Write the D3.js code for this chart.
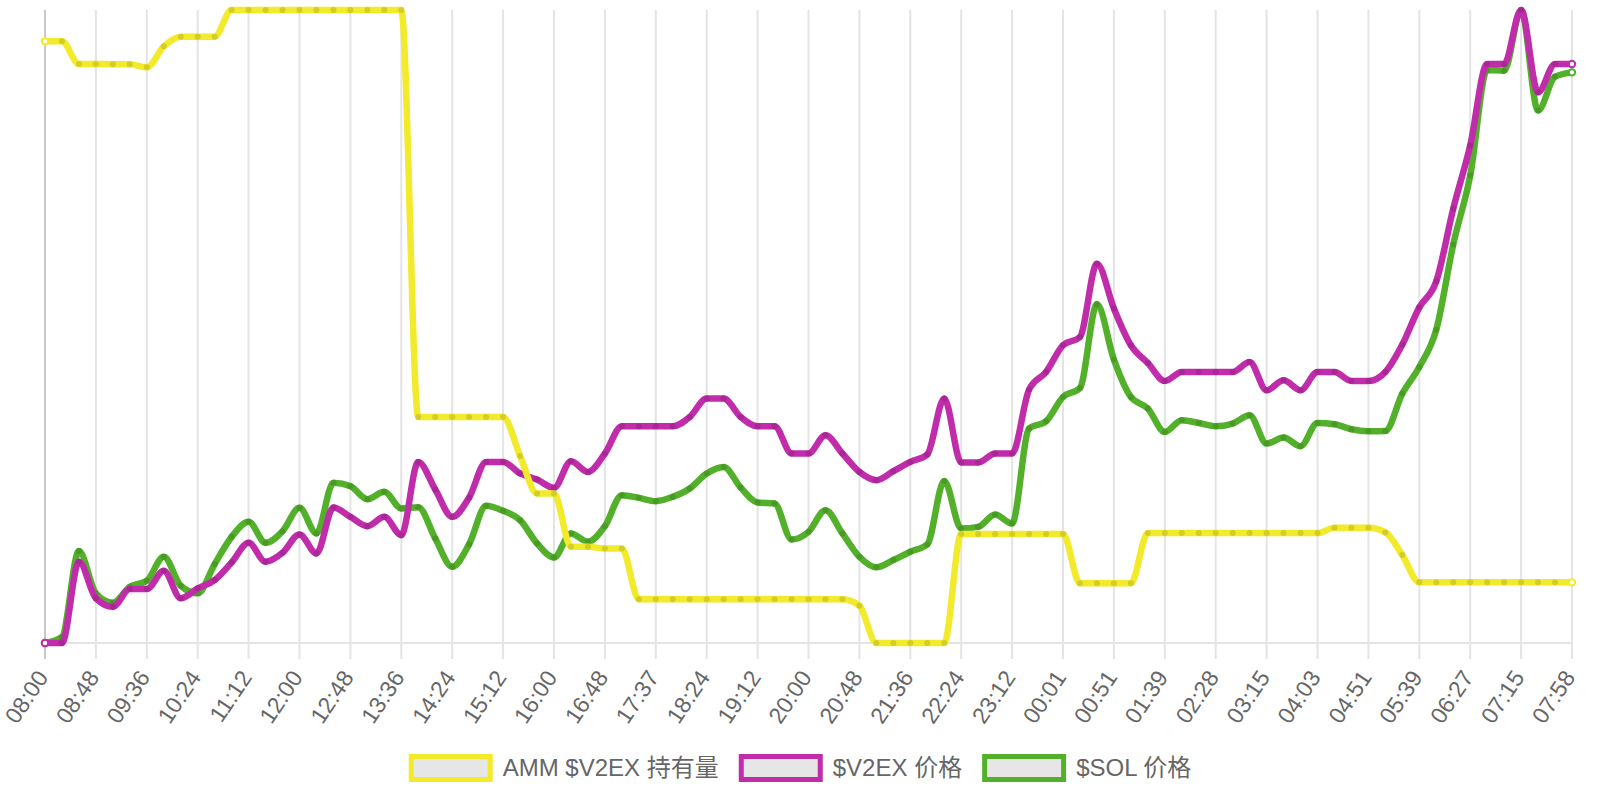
<!DOCTYPE html>
<html>
<head>
<meta charset="utf-8">
<script src="https://cdn.jsdelivr.net/npm/d3@7"></script>
<style>
  html, body { margin: 0; padding: 0; background: #fff; }
  #chart { width: 1600px; height: 800px; }
  text { font-family: "Liberation Sans", Arial, "Noto Sans CJK SC", sans-serif; fill: #666; }
</style>
</head>
<body>
<div id="chart"></div>
<script>
// tick labels, one every 3 samples
var timeLabels = ["08:00","08:48","09:36","10:24","11:12","12:00","12:48","13:36","14:24","15:12",
                  "16:00","16:48","17:37","18:24","19:12","20:00","20:48","21:36","22:24","23:12",
                  "00:01","00:51","01:39","02:28","03:15","04:03","04:51","05:39","06:27","07:15","07:58"]

var seriesNames = ["AMM $V2EX 持有量", "$V2EX 价格", "$SOL 价格"]
var seriesColors = ["#f2ea2a", "#c02caa", "#52b02a"]

// values normalised 0-100 (each series on its own hidden axis)
var ammHolding = [95.05,95.05,91.48,91.48,91.42,91.42,90.94,94.26,95.79,95.79,
                  95.79,100,100,100,100,100,100,100,100,100,
                  100,100,35.71,35.71,35.71,35.71,35.71,35.71,29.56,23.62,
                  23.62,15.20,15.20,14.94,14.94,6.90,6.90,6.90,6.90,6.90,
                  6.90,6.90,6.90,6.90,6.90,6.90,6.90,6.90,5.89,0,
                  0,0,0,0,17.20,17.20,17.20,17.20,17.20,17.20,
                  17.20,9.42,9.42,9.42,9.42,17.36,17.36,17.36,17.36,17.36,
                  17.36,17.36,17.36,17.36,17.36,17.36,18.19,18.19,18.19,17.47,
                  13.89,9.58,9.58,9.58,9.58,9.58,9.58,9.58,9.58,9.58,
                  9.58]

var v2exPrice = [0,0,12.83,7.05,5.73,8.52,8.52,11.41,7.05,8.63,
                 9.94,12.73,15.83,12.83,14.25,17.15,14.15,21.41,19.93,18.46,
                 19.93,17.04,28.61,24.25,19.93,22.99,28.61,28.61,26.78,25.83,
                 24.51,28.72,27.03,29.94,34.24,34.24,34.24,34.24,35.71,38.61,
                 38.61,35.71,34.24,34.24,29.94,29.94,32.82,29.94,27.03,25.72,
                 27.14,28.61,29.78,38.61,28.52,28.52,29.94,29.94,40.03,42.81,
                 47.03,48.34,59.92,52.83,47.03,44.23,41.39,42.81,42.81,42.81,
                 42.81,44.39,39.92,41.50,39.92,42.81,42.81,41.39,41.39,42.81,
                 47.14,53.02,57.13,68.60,78.59,91.48,91.48,100,87.00,91.48,
                 91.48]

var solPrice = [0,0.95,14.52,7.84,6.36,8.88,9.83,13.62,9.04,7.84,
                12.47,16.77,19.14,15.83,17.67,21.35,17.31,25.30,24.78,22.72,
                23.88,21.26,21.46,16.52,12.04,15.62,21.67,20.88,19.41,15.73,
                13.52,17.31,15.99,18.46,23.35,22.93,22.41,23.09,24.41,26.78,
                27.82,24.57,22.20,22.04,16.36,17.56,20.99,17.31,13.62,11.95,
                13.10,14.41,15.58,25.61,18.10,18.35,20.31,18.89,33.88,35.03,
                38.87,40.29,53.50,44.78,38.87,37.04,33.34,35.19,34.76,34.24,
                34.67,35.98,31.51,32.46,31.09,34.76,34.56,33.77,33.45,33.50,
                39.40,43.60,49.50,62.96,73.85,90.53,90.42,100,84.11,89.47,
                90.15]

var allSeries = [ammHolding, v2exPrice, solPrice]

var width = 1600, height = 800
var margin = {top: 10, right: 28, bottom: 157, left: 45}

var svg = d3.select("#chart").append("svg")
    .attr("width", width)
    .attr("height", height)

var x = d3.scaleLinear()
    .domain([0, ammHolding.length - 1])
    .range([margin.left, width - margin.right])

var y = d3.scaleLinear()
    .domain([0, 100])
    .range([height - margin.bottom, margin.top])

var tickIdx = d3.range(0, ammHolding.length, 3)

// vertical grid + tick marks
svg.append("g")
  .selectAll("line")
  .data(tickIdx)
  .join("line")
    .attr("x1", d => x(d))
    .attr("x2", d => x(d))
    .attr("y1", margin.top)
    .attr("y2", height - margin.bottom + 16)
    .attr("stroke", (d, i) => i == 0 ? "#c9c9c9" : "#e4e4e4")
    .attr("stroke-width", 2)

// bottom border
svg.append("line")
    .attr("x1", margin.left - 1)
    .attr("x2", width - margin.right + 1)
    .attr("y1", y(0))
    .attr("y2", y(0))
    .attr("stroke", "#e4e4e4")
    .attr("stroke-width", 2)

// x labels
var xAxis = svg.append("g")
    .attr("transform", `translate(0,${height - margin.bottom})`)
    .call(d3.axisBottom(x).tickValues(tickIdx).tickSize(0)
          .tickFormat((d, i) => timeLabels[i]))
xAxis.select(".domain").remove()
xAxis.selectAll("text")
    .attr("font-size", 23)
    .attr("font-family", null)
    .attr("text-anchor", "end")
    .attr("y", 0)
    .attr("dy", "0.35em")
    .attr("transform", "translate(-3,30) rotate(-56)")

// lines, last dataset drawn first so the first ends up on top
var line = d3.line()
    .x((d, i) => x(i))
    .y(d => y(d))
    .curve(d3.curveMonotoneX)

var order = [2, 1, 0]
order.forEach(function(k) {
  var data = allSeries[k]
  var col = seriesColors[k]
  var last = data.length - 1
  var g = svg.append("g")
  g.append("path")
    .datum(data)
    .attr("fill", "none")
    .attr("stroke", col)
    .attr("stroke-width", 6.5)
    .attr("stroke-linejoin", "round")
    .attr("stroke-linecap", "round")
    .attr("d", line)
  g.selectAll("circle")
    .data(data)
    .join("circle")
      .attr("cx", (d, i) => x(i))
      .attr("cy", d => y(d))
      .attr("r", (d, i) => (i == 0 || i == last) ? 3.2 : 3)
      .attr("fill", (d, i) => (i == 0 || i == last) ? "#fff" : d3.color(col).darker(0.5))
      .attr("fill-opacity", (d, i) => (i == 0 || i == last) ? 1 : 0.75)
      .attr("stroke", (d, i) => (i == 0 || i == last) ? col : "none")
      .attr("stroke-width", 2)
})

// legend
var legend = svg.append("g")
var items = legend.selectAll("g")
  .data(seriesNames)
  .join("g")
items.append("rect")
    .attr("x", 2.5).attr("y", 2.5)
    .attr("width", 79).attr("height", 23)
    .attr("fill", "#e6e6e6")
    .attr("stroke", (d, i) => seriesColors[i])
    .attr("stroke-width", 5)
items.append("text")
    .attr("x", 94)
    .attr("y", 14)
    .attr("dy", "0.35em")
    .attr("font-size", 24)
    .text(d => d)

var widths = []
items.each(function() { widths.push(94 + d3.select(this).select("text").node().getComputedTextLength()) })
var total = d3.sum(widths) + 20 * (widths.length - 1)
var pos = width / 2 - total / 2
items.attr("transform", function(d, i) {
  var t = `translate(${pos},754)`
  pos += widths[i] + 20
  return t
})
</script>
</body>
</html>
